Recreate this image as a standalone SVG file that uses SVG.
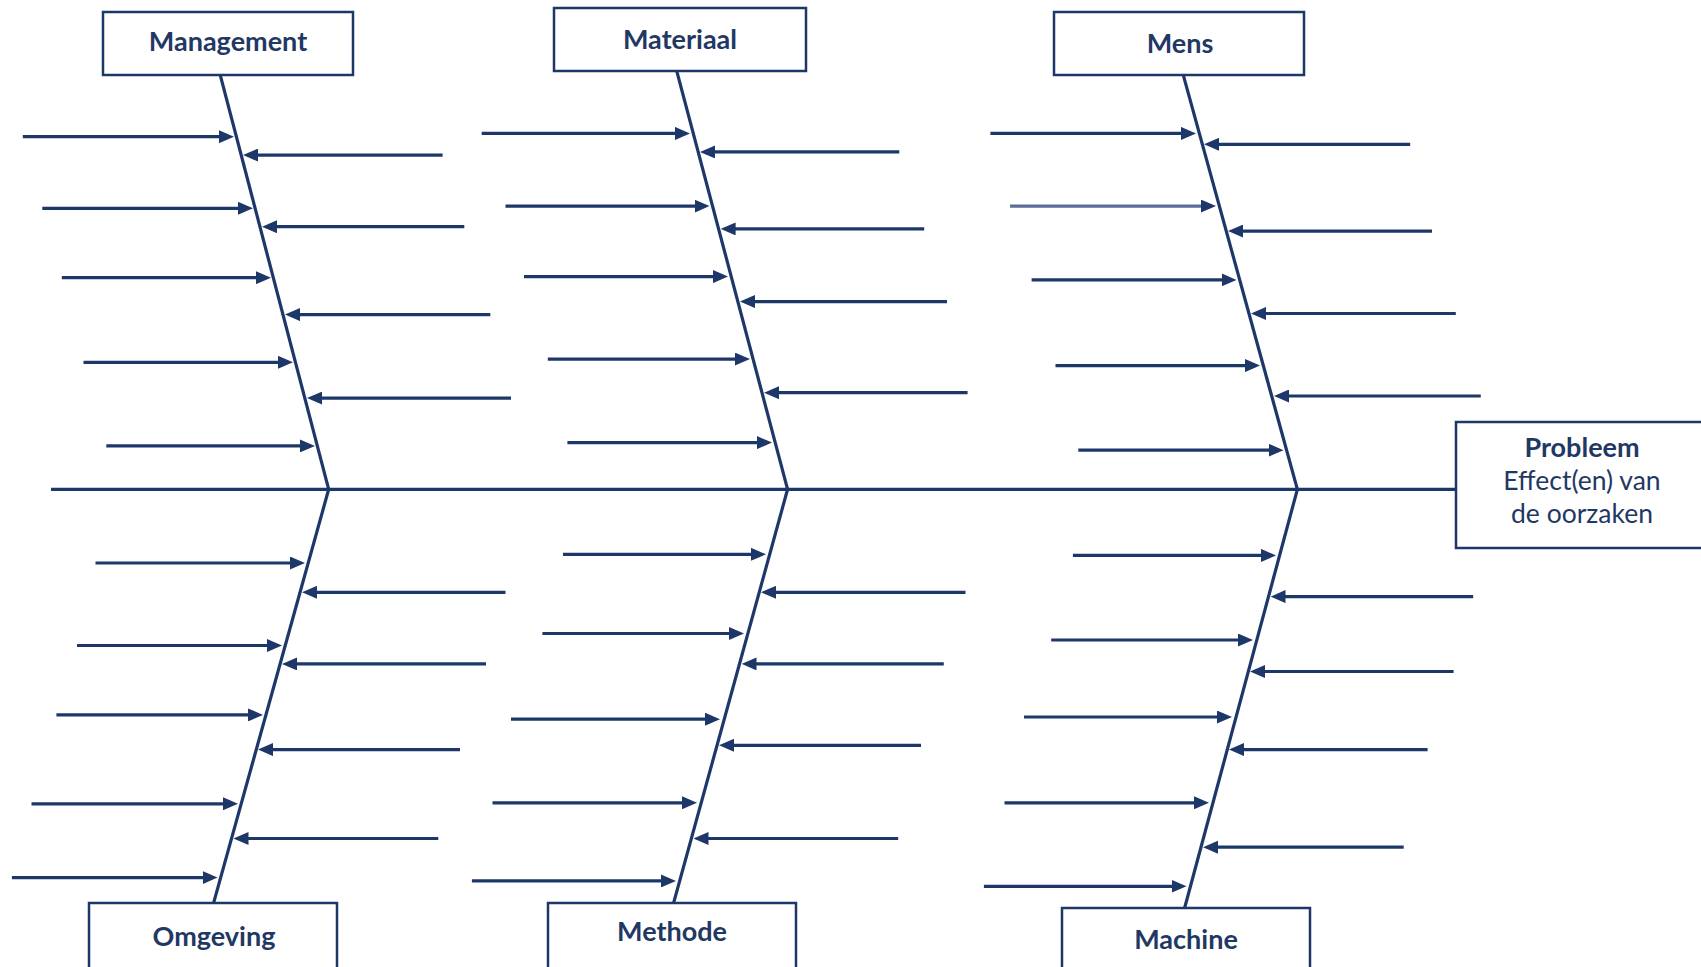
<svg xmlns="http://www.w3.org/2000/svg" width="1701" height="967" viewBox="0 0 1701 967">
<defs>
<marker id="ah" markerUnits="userSpaceOnUse" markerWidth="15" markerHeight="13" refX="10" refY="6.5" orient="auto">
<path d="M0,0 L15,6.5 L0,13 z" fill="#1e3769"/>
</marker>
</defs>
<style>
.box{fill:#fff;stroke:#1e3769;stroke-width:2.5}
.lbl{font-family:Lato,"Liberation Sans",sans-serif;font-weight:bold;font-size:27px;fill:#1f3864;text-anchor:middle;dominant-baseline:central}
.txt{font-family:Lato,"Liberation Sans",sans-serif;font-size:26.5px;fill:#1f3864;text-anchor:middle;dominant-baseline:central}
.bone{stroke:#1e3769;stroke-width:3.2;fill:none}
.arr{stroke:#1e3769;stroke-width:3.2;marker-end:url(#ah)}
.arr2{stroke:#5b6e98;stroke-width:3.2;marker-end:url(#ah)}
</style>
<rect width="1701" height="967" fill="#fff"/>
<g id="connectors">
<line class="bone" x1="51" y1="489.3" x2="1456" y2="489.3"/>
<line class="bone" x1="220.2" y1="74.9" x2="328.7" y2="489.3"/>
<line class="bone" x1="328.7" y1="489.3" x2="213.7" y2="902.6"/>
<line class="bone" x1="676.9" y1="71.6" x2="787.6" y2="489.3"/>
<line class="bone" x1="787.6" y1="489.3" x2="673.7" y2="902.6"/>
<line class="bone" x1="1183.5" y1="75.9" x2="1297.4" y2="489.3"/>
<line class="bone" x1="1297.4" y1="489.3" x2="1184.6" y2="908"/>
<!-- Management -->
<line class="arr" x1="22.8" y1="136.7" x2="229" y2="136.7"/>
<line class="arr" x1="42.3" y1="208.3" x2="248" y2="208.3"/>
<line class="arr" x1="61.8" y1="277.7" x2="266" y2="277.7"/>
<line class="arr" x1="83.5" y1="362.3" x2="288" y2="362.3"/>
<line class="arr" x1="106.3" y1="445.9" x2="310" y2="445.9"/>
<line class="arr" x1="442.6" y1="155.1" x2="248" y2="155.1"/>
<line class="arr" x1="464.3" y1="226.7" x2="267" y2="226.7"/>
<line class="arr" x1="490.3" y1="314.6" x2="290" y2="314.6"/>
<line class="arr" x1="511" y1="398.1" x2="312" y2="398.1"/>
<!-- Materiaal -->
<line class="arr" x1="481.7" y1="133.4" x2="685" y2="133.4"/>
<line class="arr" x1="505.5" y1="206.1" x2="704.5" y2="206.1"/>
<line class="arr" x1="524" y1="276.6" x2="723" y2="276.6"/>
<line class="arr" x1="547.8" y1="359.1" x2="745" y2="359.1"/>
<line class="arr" x1="567.4" y1="442.6" x2="767" y2="442.6"/>
<line class="arr" x1="899.3" y1="151.9" x2="705" y2="151.9"/>
<line class="arr" x1="924.2" y1="228.9" x2="725.6" y2="228.9"/>
<line class="arr" x1="947" y1="301.6" x2="745" y2="301.6"/>
<line class="arr" x1="967.6" y1="392.7" x2="769" y2="392.7"/>
<!-- Mens -->
<line class="arr" x1="990.4" y1="133.4" x2="1191" y2="133.4"/>
<line class="arr2" x1="1010" y1="206.1" x2="1211" y2="206.1"/>
<line class="arr" x1="1031.6" y1="279.9" x2="1231.5" y2="279.9"/>
<line class="arr" x1="1055.5" y1="365.6" x2="1255" y2="365.6"/>
<line class="arr" x1="1078.3" y1="450.2" x2="1278.5" y2="450.2"/>
<line class="arr" x1="1410.2" y1="144.3" x2="1209" y2="144.3"/>
<line class="arr" x1="1432" y1="231.1" x2="1233" y2="231.1"/>
<line class="arr" x1="1455.8" y1="313.5" x2="1256" y2="313.5"/>
<line class="arr" x1="1480.8" y1="396" x2="1279" y2="396"/>
<!-- Omgeving -->
<line class="arr" x1="95.5" y1="563" x2="300" y2="563"/>
<line class="arr" x1="77" y1="645.5" x2="277" y2="645.5"/>
<line class="arr" x1="56.4" y1="714.9" x2="258" y2="714.9"/>
<line class="arr" x1="31.5" y1="803.8" x2="233" y2="803.8"/>
<line class="arr" x1="11.9" y1="877.6" x2="212.5" y2="877.6"/>
<line class="arr" x1="505.5" y1="592.3" x2="307" y2="592.3"/>
<line class="arr" x1="486" y1="663.9" x2="287" y2="663.9"/>
<line class="arr" x1="460" y1="749.6" x2="263" y2="749.6"/>
<line class="arr" x1="438.3" y1="838.5" x2="238.5" y2="838.5"/>
<!-- Methode -->
<line class="arr" x1="563" y1="554.3" x2="761" y2="554.3"/>
<line class="arr" x1="542.4" y1="633.5" x2="739" y2="633.5"/>
<line class="arr" x1="511" y1="719.2" x2="715" y2="719.2"/>
<line class="arr" x1="492.5" y1="802.8" x2="692" y2="802.8"/>
<line class="arr" x1="471.9" y1="880.9" x2="671" y2="880.9"/>
<line class="arr" x1="965.5" y1="592.3" x2="766" y2="592.3"/>
<line class="arr" x1="943.8" y1="663.9" x2="746.5" y2="663.9"/>
<line class="arr" x1="921" y1="745.3" x2="724" y2="745.3"/>
<line class="arr" x1="898.2" y1="838.5" x2="698.5" y2="838.5"/>
<!-- Machine -->
<line class="arr" x1="1072.9" y1="555.4" x2="1271" y2="555.4"/>
<line class="arr" x1="1051.2" y1="640" x2="1248" y2="640"/>
<line class="arr" x1="1024" y1="717" x2="1227" y2="717"/>
<line class="arr" x1="1004.5" y1="802.8" x2="1204" y2="802.8"/>
<line class="arr" x1="983.9" y1="886.3" x2="1181.5" y2="886.3"/>
<line class="arr" x1="1473.2" y1="596.6" x2="1275.5" y2="596.6"/>
<line class="arr" x1="1453.6" y1="671.5" x2="1255" y2="671.5"/>
<line class="arr" x1="1427.6" y1="749.6" x2="1234" y2="749.6"/>
<line class="arr" x1="1403.7" y1="847.2" x2="1208" y2="847.2"/>
</g>
<g id="management">
<rect class="box" x="103" y="12" width="250" height="63"/>
<text class="lbl" x="228" y="40">Management</text>
</g>
<g id="materiaal">
<rect class="box" x="554" y="8" width="252" height="63"/>
<text class="lbl" x="680" y="38">Materiaal</text>
</g>
<g id="mens">
<rect class="box" x="1054" y="12" width="250" height="63"/>
<text class="lbl" x="1180" y="42">Mens</text>
</g>
<g id="probleem">
<rect class="box" x="1456" y="422" width="260" height="126"/>
<text class="lbl" x="1582" y="446">Probleem</text>
<text class="txt" x="1582" y="480">Effect(en) van</text>
<text class="txt" x="1582" y="513">de oorzaken</text>
</g>
<g id="omgeving">
<rect class="box" x="89" y="903" width="248" height="70"/>
<text class="lbl" x="214" y="935">Omgeving</text>
</g>
<g id="methode">
<rect class="box" x="548" y="903" width="248" height="70"/>
<text class="lbl" x="672" y="930">Methode</text>
</g>
<g id="machine">
<rect class="box" x="1062" y="908" width="248" height="70"/>
<text class="lbl" x="1186" y="938">Machine</text>
</g>
</svg>
